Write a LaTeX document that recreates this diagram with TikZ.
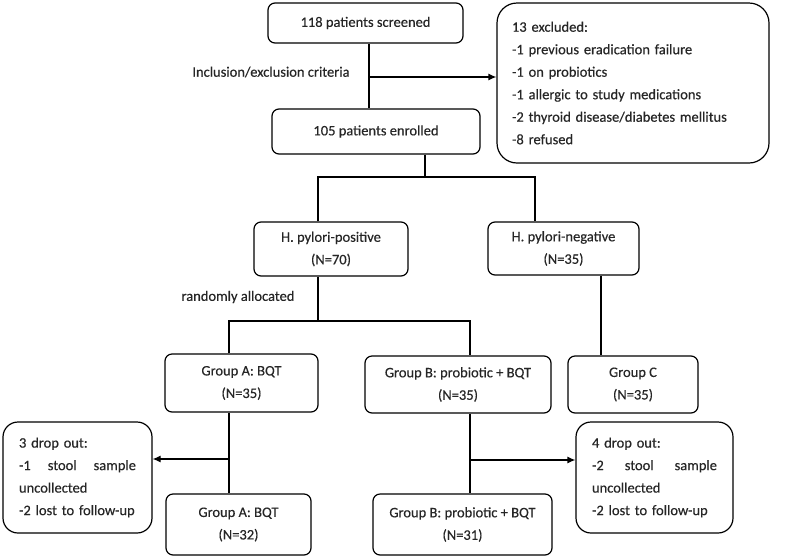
\documentclass[tikz,border=0pt]{standalone}
\usepackage{fontspec}
\setmainfont{Carlito}[FakeBold=0.4]
\usepackage{tikz}
\usetikzlibrary{arrows.meta, positioning, calc}

\begin{document}
\begin{tikzpicture}[x=1pt,y=-1pt,line width=1.2pt,
	>={Latex[length=8pt,width=7pt]},
	every node/.style={font=\fontsize{14.5}{22.5}\selectfont,text=black!85},
	stepbox/.style={draw,rounded corners=7pt,align=center,inner sep=0pt},
	notebox/.style={draw,rounded corners=15pt,align=left,inner sep=0pt}]
	\useasboundingbox (0,0) rectangle (790,558);
	
	\node[stepbox,minimum width=195pt,minimum height=40pt] (screened) at (365.5,23) {118 patients screened};
	\node[notebox,rounded corners=20pt,minimum width=272pt,minimum height=160pt,text width=242pt] (excluded) at (633,83) {13 excluded:\\-1 previous eradication failure\\-1 on probiotics\\-1 allergic to study medications\\-2 thyroid disease/diabetes mellitus\\-8 refused};
	\node[stepbox,minimum width=208pt,minimum height=45pt] (enrolled) at (376,131.5) {105 patients enrolled};
	\node (crit) at (271,72) {Inclusion/exclusion criteria};
	
	\node[stepbox,minimum width=154pt,minimum height=54pt] (hpos) at (331,249) {H. pylori-positive\\(N=70)};
	\node[stepbox,minimum width=151pt,minimum height=53pt] (hneg) at (563.5,248.5) {H. pylori-negative\\(N=35)};
	\node (rand) at (238,297) {randomly allocated};
	
	\node[stepbox,minimum width=153pt,minimum height=58pt] (grpA) at (241.5,383) {Group A: BQT\\(N=35)};
	\node[stepbox,minimum width=186pt,minimum height=57pt] (grpB) at (458,384.5) {Group B: probiotic + BQT\\(N=35)};
	\node[stepbox,minimum width=130pt,minimum height=57pt] (grpC) at (633,384.5) {Group C\\(N=35)};
	
	\node[notebox,minimum width=149pt,minimum height=111pt,text width=117pt] (dropA) at (77.5,477.5) {3 drop out:\\-1\hfill stool\hfill sample\\uncollected\\-2 lost to follow-up};
	\node[notebox,minimum width=157pt,minimum height=111pt,text width=125pt] (dropB) at (654.5,477.5) {4 drop out:\\-2\hfill stool\hfill sample\\uncollected\\-2 lost to follow-up};
	\node[stepbox,minimum width=145pt,minimum height=61pt] (grpAend) at (238.5,524.5) {Group A: BQT\\(N=32)};
	\node[stepbox,minimum width=179pt,minimum height=61pt] (grpBend) at (462.5,524.5) {Group B: probiotic + BQT\\(N=31)};
	
	% junctions of the connectors
	\coordinate (j0) at (369,77);
	\coordinate (j1) at (425,177);
	\coordinate (j1l) at (318,177);
	\coordinate (j1r) at (535,177);
	\coordinate (j2) at (318,321);
	\coordinate (j2l) at (229,321);
	\coordinate (j2r) at (470,321);
	\coordinate (j3) at (601,300);
	\coordinate (jA) at (229,459);
	\coordinate (jB) at (470,460);
	
	\draw (j0 |- screened.south) -- (j0 |- enrolled.north);
	\draw[->] (j0) -- (j0 -| excluded.west);
	\draw (j1 |- enrolled.south) -- (j1);
	\draw (j1l |- hpos.north) -- (j1l) -- (j1r) -- (j1r |- hneg.north);
	\draw (j2 |- hpos.south) -- (j2);
	\draw (j2l |- grpA.north) -- (j2l) -- (j2r) -- (j2r |- grpB.north);
	\draw (j3 |- hneg.south) -- (j3 |- grpC.north);
	\draw (jA |- grpA.south) -- (jA |- grpAend.north);
	\draw[->] (jA) -- (jA -| dropA.east);
	\draw (jB |- grpB.south) -- (jB |- grpBend.north);
	\draw[->] (jB) -- (jB -| dropB.west);
\end{tikzpicture}
\end{document}
